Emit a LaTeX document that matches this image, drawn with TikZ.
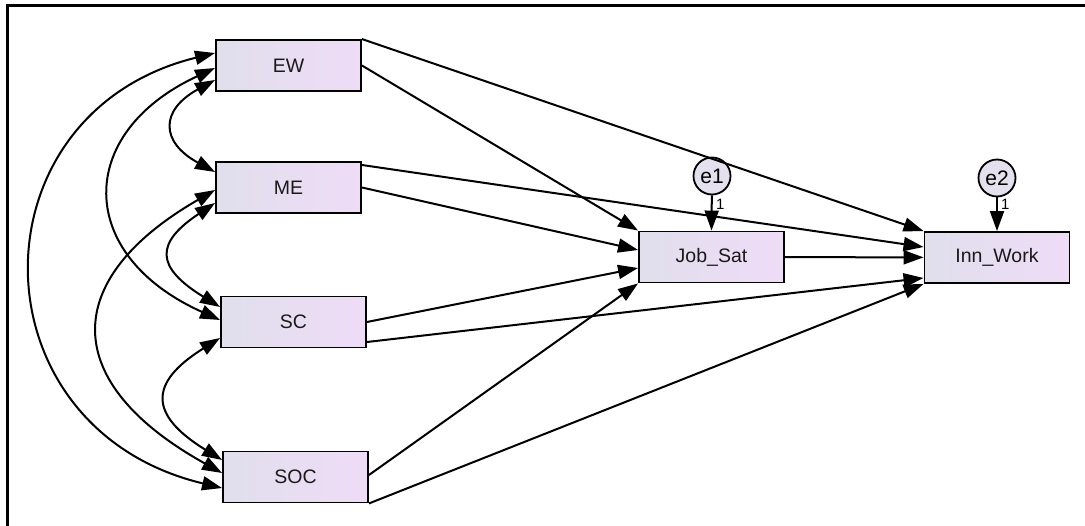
\documentclass[tikz,border=0pt]{standalone}
\usepackage{fontspec}
\setmainfont{Liberation Sans}
\usetikzlibrary{arrows.meta,calc}
\definecolor{boxL}{RGB}{224,223,236}
\definecolor{boxR}{RGB}{239,220,247}
\definecolor{circ}{RGB}{228,224,238}
\begin{document}
\begin{tikzpicture}[x=1pt,y=-1pt,
  var/.style={draw=black, line width=1.9pt, left color=boxL, right color=boxR, minimum width=145pt, minimum height=51pt, inner sep=0pt, font=\fontsize{19.5}{22}\selectfont, text=black!90},
  err/.style={circle, draw=black, line width=1.8pt, fill=circ, minimum size=37pt, inner sep=0pt, font=\fontsize{21}{24}\selectfont},
  reg/.style={line width=2pt, -{Triangle[length=20pt,width=14pt]}},
  cov/.style={line width=2pt, {Triangle[length=20pt,width=14pt]}-{Triangle[length=20pt,width=14pt]}},
  one/.style={font=\fontsize{15}{16}\selectfont, anchor=west, inner sep=0pt}
]
\useasboundingbox (0,0) rectangle (1085,526);
\draw[line width=2.2pt] (7.5,526) -- (7.5,5.5) -- (1085,5.5);

\node[var] (EW)  at (288.5,65.5) {EW};
\node[var] (ME)  at (288.5,187.5) {ME};
\node[var] (SC)  at (293.5,322) {SC};
\node[var] (SOC) at (295.5,477) {SOC};
\node[var] (Job) at (711.5,257) {Job\_Sat};
\node[var] (Inn) at (997,257.5) {Inn\_Work};
\node[err] (e1) at (712,176) {e1};
\node[err] (e2) at (997,178) {e2};
\node[one] (l1) at (716,204) {1};
\node[one] (l2) at (1001,204) {1};

% regressions
\draw[reg] (EW.north east) -- (Inn.north west);
\draw[reg] (EW.east) -- (Job.north west);
\draw[reg] ($(ME.east)+(0,-22.5)$) -- ($(Inn.west)+(0,-10.5)$);
\draw[reg] (ME.east) -- ($(Job.west)+(0,-7)$);
\draw[reg] (SC.east) -- ($(Job.west)+(0,11)$);
\draw[reg] ($(SC.east)+(0,20)$) -- ($(Inn.west)+(0,20.5)$);
\draw[reg] ($(SOC.east)+(0,-2)$) -- (Job.south west);
\draw[reg] (SOC.south east) -- (Inn.south west);
\draw[reg] (Job) -- (Inn);
\draw[reg] (e1) -- (Job.north);
\draw[reg] (e2) -- (Inn.north);

% covariances
\draw[cov] ($(EW.west)+(0,-12.5)$) .. controls +(-245,60) and +(-251,-60) .. ($(SOC.west)+(0,11)$);
\draw[cov] ($(EW.west)+(0,2.5)$) .. controls +(-140,65) and +(-145,-65) .. ($(SC.west)+(0,-2)$);
\draw[cov] ($(EW.west)+(0,14.5)$) .. controls +(-55,30) and +(-55,-30) .. ($(ME.west)+(0,-15.5)$);
\draw[cov] ($(ME.west)+(0,2.5)$) .. controls +(-156,90) and +(-162,-90) .. ($(SOC.west)+(0,-4)$);
\draw[cov] ($(ME.west)+(0,15.5)$) .. controls +(-60,40) and +(-65,-40) .. ($(SC.west)+(0,-15)$);
\draw[cov] ($(SC.west)+(0,16)$) .. controls +(-72,45) and +(-73,-45) .. ($(SOC.west)+(0,-17)$);
\end{tikzpicture}
\end{document}
